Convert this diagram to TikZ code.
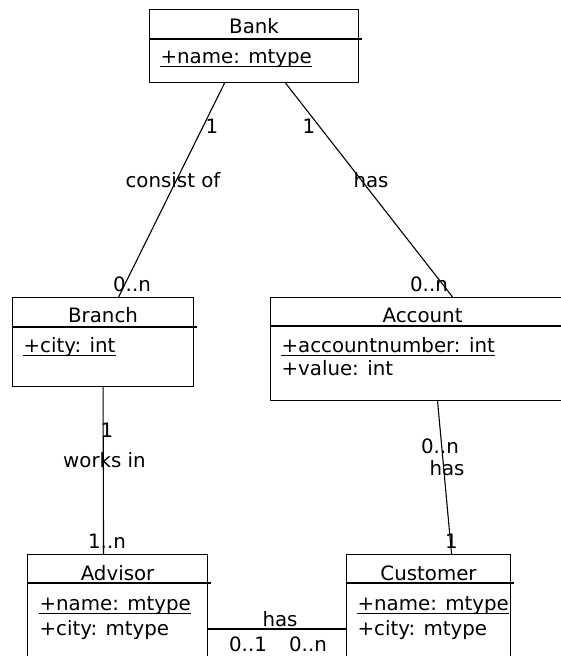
\documentclass[tikz,border=0pt]{standalone}
\usepackage{fontspec}
\setmainfont{DejaVu Sans}
\begin{document}
\begin{tikzpicture}[x=1pt,y=-1pt,
  line width=1.1pt,
  every node/.style={font=\fontsize{19.8pt}{24pt}\selectfont},
  classbox/.style={draw, anchor=north west, inner sep=0pt},
  lbl/.style={anchor=base, inner sep=0pt, text depth=0pt},
  attr/.style={anchor=base west, inner sep=0pt},
  uline/.style={line width=0.9pt}]
\useasboundingbox (0,0) rectangle (560,656);

% class boxes
\node[classbox, minimum width=209pt, minimum height=73pt]  (bank)     at (149,9)   {};
\node[classbox, minimum width=181pt, minimum height=89pt]  (branch)   at (12,297)  {};
\node[classbox, minimum width=304pt, minimum height=103pt] (account)  at (270,297) {};
\node[classbox, minimum width=180pt, minimum height=130pt] (advisor)  at (27,554)  {};
\node[classbox, minimum width=164pt, minimum height=130pt] (customer) at (346,554) {};

% header separators (run a little past the right border)
\foreach \c/\h in {bank/30, branch/30, account/29, advisor/29, customer/29}{
  \draw ([yshift=-\h pt]\c.north west) -- ([yshift=-\h pt, xshift=3pt]\c.north east);
}

% class names
\node[lbl] (bank-t)     at ([yshift=-24pt]bank.north)     {Bank};
\node[lbl] (branch-t)   at ([yshift=-25pt]branch.north)   {Branch};
\node[lbl] (account-t)  at ([yshift=-25pt]account.north)  {Account};
\node[lbl] (advisor-t)  at ([yshift=-26pt]advisor.north)  {Advisor};
\node[lbl] (customer-t) at ([yshift=-26pt]customer.north) {Customer};

% attributes
\node[attr] (bank-a1)     at ([xshift=11pt, yshift=-54pt]bank.north west)     {+name: mtype};
\node[attr] (branch-a1)   at ([xshift=11pt, yshift=-55pt]branch.north west)   {+city: int};
\node[attr] (account-a1)  at ([xshift=11pt, yshift=-55pt]account.north west)  {+accountnumber: int};
\node[attr] (account-a2)  at ([xshift=11pt, yshift=-78pt]account.north west)  {+value: int};
\node[attr] (advisor-a1)  at ([xshift=12pt, yshift=-56pt]advisor.north west)  {+name: mtype};
\node[attr] (advisor-a2)  at ([xshift=12pt, yshift=-81pt]advisor.north west)  {+city: mtype};
\node[attr] (customer-a1) at ([xshift=11pt, yshift=-56pt]customer.north west) {+name: mtype};
\node[attr] (customer-a2) at ([xshift=11pt, yshift=-81pt]customer.north west) {+city: mtype};

% underlined (class-scope) attributes
\foreach \a in {bank-a1, branch-a1, account-a1, advisor-a1, customer-a1}{
  \draw[uline] ([yshift=-3pt]\a.base west) -- ([yshift=-3pt]\a.base east);
}

% associations
\draw ([xshift=-29.5pt]bank.south) -- ([xshift=15.5pt]branch.north);
\draw ([xshift=31.5pt]bank.south)  -- ([xshift=30pt]account.north);
\draw (branch.south) -- ([xshift=-14pt]advisor.north);
\draw ([xshift=15pt]account.south) -- ([xshift=23pt]customer.north);
\draw ([yshift=-75pt]advisor.north east) -- ([yshift=-75pt]customer.north west);

% association names and multiplicities
\node[lbl] (m1) at (212,133) {1};
\node[lbl] (n1) at (173,187) {consist of};
\node[lbl] (m2) at (132,291) {0..n};

\node[lbl] (m3) at (309,133) {1};
\node[lbl] (n2) at (371,187) {has};
\node[lbl] (m4) at (429,291) {0..n};

\node[lbl] (m5) at (107,437) {1};
\node[lbl] (n3) at (104.5,467) {works in};
\node[lbl] (m6) at (107,548) {1..n};

\node[lbl] (m7) at (440,453) {0..n};
\node[lbl] (n4) at (447,475) {has};
\node[lbl] (m8) at (451.5,548) {1};

\node[lbl] (n5) at (280,626) {has};
\node[lbl] (m9) at (248,651) {0..1};
\node[lbl] (m10) at (308,651) {0..n};
\end{tikzpicture}
\end{document}
